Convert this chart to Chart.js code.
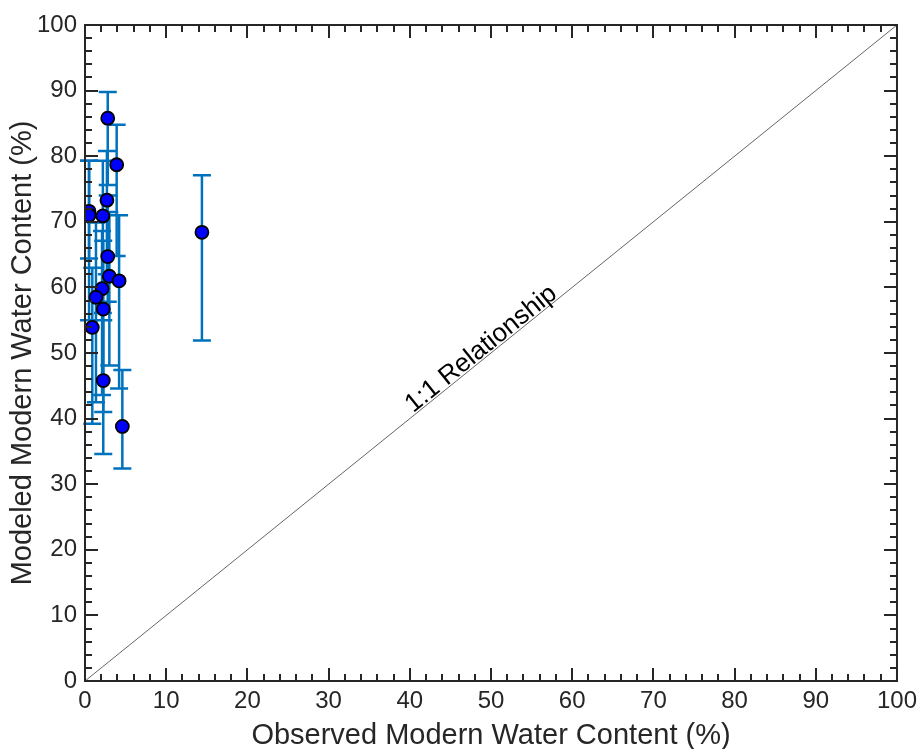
<!DOCTYPE html>
<html>
<head>
<meta charset="utf-8">
<script src="https://cdn.jsdelivr.net/npm/chart.js@4"></script>
<style>
  html,body{margin:0;padding:0;background:#fff;}
  #wrap{width:923px;height:749px;position:relative;}
</style>
</head>
<body>
<div id="wrap"><canvas id="c" width="923" height="749"></canvas></div>
<script>
// ---- data ----
const observed = [2.8, 3.9, 2.7, 0.5, 0.5, 2.2, 2.8, 3.0, 4.2, 2.1, 1.35, 2.25, 0.9, 2.25, 4.6, 14.4];
const modeled  = [85.8, 78.7, 73.3, 71.6, 71.0, 70.9, 64.7, 61.7, 61.0, 59.8, 58.5, 56.7, 53.9, 45.8, 38.8, 68.4];
const errLow   = [75.6, 64.8, 62.0, 55.0, 64.4, 56.1, 57.8, 48.1, 44.6, 43.6, 42.5, 41.0, 39.2, 34.6, 32.4, 51.9];
const errHigh  = [89.8, 84.8, 80.8, 79.3, 79.3, 79.3, 74.0, 71.5, 71.0, 68.6, 69.9, 67.1, 63.0, 55.0, 47.4, 77.1];
const oneToOneX = [0, 100];
const oneToOneY = [0, 100];
const lineLabel = "1:1 Relationship";
const xTitle = "Observed Modern Water Content (%)";
const yTitle = "Modeled Modern Water Content (%)";

const FONT = "Arial, 'Liberation Sans', sans-serif";
const AXIS_COLOR = '#262626';

const pointData = observed.map((x, i) => ({x: x, y: modeled[i]}));
const lineData = oneToOneX.map((x, i) => ({x: x, y: oneToOneY[i]}));

const errorBarPlugin = {
  id: 'errorBars',
  beforeDatasetDraw(chart, args) {
    if (args.index !== 1) return;
    const {ctx, scales: {x, y}} = chart;
    ctx.save();
    ctx.strokeStyle = '#0072BD';
    ctx.lineWidth = 2.5;
    const cap = 9;
    for (let i = 0; i < observed.length; i++) {
      const px = x.getPixelForValue(observed[i]);
      const pl = y.getPixelForValue(errLow[i]);
      const ph = y.getPixelForValue(errHigh[i]);
      ctx.beginPath();
      ctx.moveTo(px, pl); ctx.lineTo(px, ph);
      ctx.moveTo(px - cap, pl); ctx.lineTo(px + cap, pl);
      ctx.moveTo(px - cap, ph); ctx.lineTo(px + cap, ph);
      ctx.stroke();
    }
    ctx.restore();
  }
};

const framePlugin = {
  id: 'frame',
  afterDraw(chart) {
    const {ctx, chartArea: a, scales: {x, y}} = chart;
    ctx.save();
    ctx.strokeStyle = AXIS_COLOR;
    ctx.lineWidth = 2;
    ctx.beginPath();
    for (let v = 0; v <= 100; v += 2) {
      const len = (v % 10 === 0) ? 13 : 7;
      const px = Math.round(x.getPixelForValue(v)) ;
      ctx.moveTo(px, a.bottom); ctx.lineTo(px, a.bottom - len);
      ctx.moveTo(px, a.top); ctx.lineTo(px, a.top + len);
      const py = Math.round(y.getPixelForValue(v));
      ctx.moveTo(a.left, py); ctx.lineTo(a.left + len, py);
      ctx.moveTo(a.right, py); ctx.lineTo(a.right - len, py);
    }
    ctx.stroke();
    ctx.strokeRect(a.left, a.top, a.right - a.left, a.bottom - a.top);
    // 1:1 label
    const x0 = x.getPixelForValue(oneToOneX[0]), y0 = y.getPixelForValue(oneToOneY[0]);
    const x1 = x.getPixelForValue(oneToOneX[1]), y1 = y.getPixelForValue(oneToOneY[1]);
    const ang = Math.atan2(y1 - y0, x1 - x0);
    const cx = x.getPixelForValue(49.5), cy = y.getPixelForValue(49.5);
    ctx.translate(cx, cy);
    ctx.rotate(ang);
    ctx.fillStyle = '#000';
    ctx.font = '26px ' + FONT;
    ctx.textAlign = 'center';
    ctx.textBaseline = 'alphabetic';
    ctx.fillText(lineLabel, 0, -2);
    ctx.restore();
  }
};

new Chart(document.getElementById('c'), {
  type: 'scatter',
  data: {
    datasets: [
      {
        type: 'line',
        data: lineData,
        borderColor: '#222',
        borderWidth: 0.7,
        pointRadius: 0,
        fill: false,
        order: 2
      },
      {
        type: 'scatter',
        data: pointData,
        backgroundColor: '#0000FF',
        borderColor: '#000',
        borderWidth: 1.8,
        pointRadius: 6.5,
        order: 1
      }
    ]
  },
  options: {
    responsive: false,
    animation: false,
    devicePixelRatio: 1,
    layout: {padding: {left: 0, right: 21, top: 25, bottom: 0}},
    plugins: {legend: {display: false}, tooltip: {enabled: false}},
    scales: {
      x: {
        type: 'linear', min: 0, max: 100,
        grid: {display: false, drawTicks: false},
        border: {display: false},
        ticks: {stepSize: 10, padding: 6, color: AXIS_COLOR, font: {family: FONT, size: 24}},
        title: {display: true, text: xTitle, color: AXIS_COLOR, font: {family: FONT, size: 29, lineHeight: 1}, padding: {top: 0, bottom: -1}},
        afterFit(s) { s.height = 68; }
      },
      y: {
        type: 'linear', min: 0, max: 100,
        grid: {display: false, drawTicks: false},
        border: {display: false},
        ticks: {stepSize: 10, padding: 8, color: AXIS_COLOR, font: {family: FONT, size: 24}},
        title: {display: true, text: yTitle, color: AXIS_COLOR, font: {family: FONT, size: 29, lineHeight: 1}, padding: {top: 8, bottom: 0}},
        afterFit(s) { s.width = 85; }
      }
    }
  },
  plugins: [errorBarPlugin, framePlugin]
});
</script>
</body>
</html>
